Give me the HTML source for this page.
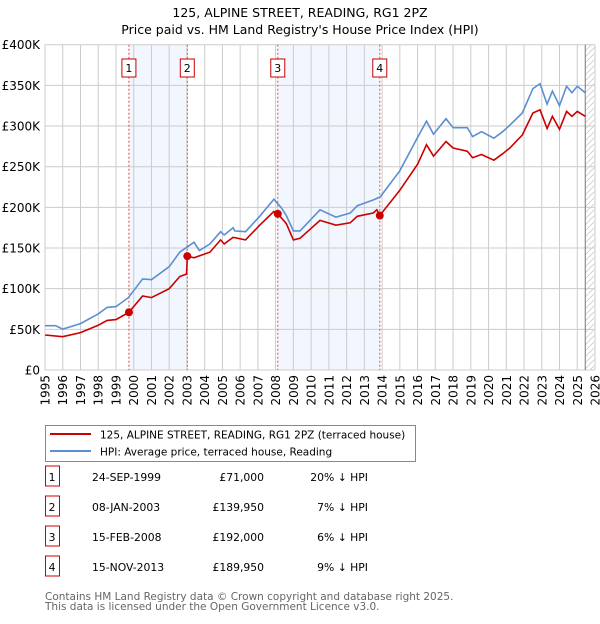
<!DOCTYPE html>
<html><head><meta charset="utf-8"><style>
body{margin:0;background:#fff;font-family:"DejaVu Sans","Liberation Sans",sans-serif;}
svg text{font-family:"DejaVu Sans","Liberation Sans",sans-serif;}
</style></head><body>
<svg id="c" width="600" height="620" viewBox="0 0 600 620" xmlns="http://www.w3.org/2000/svg">
<text x="300" y="17" text-anchor="middle" font-size="12.5">125, ALPINE STREET, READING, RG1 2PZ</text>
<text x="300" y="34" text-anchor="middle" font-size="12.5">Price paid vs. HM Land Registry's House Price Index (HPI)</text>
<g id="plot"></g>
<g>
<rect x="45.5" y="425.5" width="370" height="36" fill="#fff" stroke="#888"/>
<line x1="50" y1="434" x2="91" y2="434" stroke="#cc0000" stroke-width="2"/>
<text x="100" y="438.5" font-size="10.5">125, ALPINE STREET, READING, RG1 2PZ (terraced house)</text>
<line x1="50" y1="451" x2="91" y2="451" stroke="#5b8fd0" stroke-width="2"/>
<text x="100" y="455.5" font-size="10.5">HPI: Average price, terraced house, Reading</text>
</g>
<g id="table" font-size="10.8"></g>
<text x="45" y="600" font-size="10.5" fill="#666">Contains HM Land Registry data © Crown copyright and database right 2025.</text>
<text x="45" y="610" font-size="10.5" fill="#666">This data is licensed under the Open Government Licence v3.0.</text>
</svg>
<script>
const hpiYears=[1995,1995.6,1996,1997,1998,1998.5,1999,1999.7,2000.5,2001,2002,2002.6,2003.4,2003.7,2004.3,2004.9,2005.1,2005.6,2005.7,2006.3,2007.1,2007.9,2008.3,2008.6,2009,2009.37,2010.5,2011.4,2012.2,2012.6,2013.5,2013.9,2015,2016,2016.5,2016.9,2017.6,2018,2018.8,2019.1,2019.6,2020.3,2020.8,2021.2,2021.9,2022.5,2022.9,2023.3,2023.6,2024.0,2024.4,2024.7,2025.0,2025.45];
const hpiValues=[54.5,54.5,50.3,57,69,77,78,89,112,111,127,145,157,147,155,170,166,175,171,170,189,210,200,190,171,171,197,188,193,202,209,213,245,286,306,290,309,298,298,287,293,285,293,301,316,346,352,327,343,325,349,341,349,341];
const propYears=[1995,1996,1997,1998,1998.5,1999,1999.73,2000.5,2001,2002,2002.6,2002.98,2003.02,2003.4,2004.3,2004.9,2005.1,2005.6,2006.3,2007.1,2007.9,2008.12,2008.6,2009,2009.37,2010.5,2011.4,2012.2,2012.6,2013.5,2013.7,2013.87,2015,2016,2016.5,2016.9,2017.6,2018,2018.8,2019.1,2019.6,2020.3,2020.8,2021.2,2021.9,2022.5,2022.9,2023.3,2023.6,2024.0,2024.4,2024.7,2025.0,2025.45];
const propValues=[43,41,46,55,61,62,71,91,89,100,115,118,140,138,145,160,155,163,160,178,195,192,180,160,162,184,178,181,189,193,197,190,221,253,277,263,281,273,269,261,265,258,266,273,289,316,320,297,312,296,318,312,318,312];
const saleLabels=["1","2","3","4"];
const saleYears=[1999.73,2003.02,2008.12,2013.87];
const saleValues=[71,139.95,192,189.95];
const saleDates=["24-SEP-1999","08-JAN-2003","15-FEB-2008","15-NOV-2013"];
const salePrices=["£71,000","£139,950","£192,000","£189,950"];
const saleDiffs=["20% ↓ HPI","7% ↓ HPI","6% ↓ HPI","9% ↓ HPI"];
const yTicks=[0,50,100,150,200,250,300,350,400];
const yTickLabels=["£0","£50K","£100K","£150K","£200K","£250K","£300K","£350K","£400K"];
const xTicks=[1995,1996,1997,1998,1999,2000,2001,2002,2003,2004,2005,2006,2007,2008,2009,2010,2011,2012,2013,2014,2015,2016,2017,2018,2019,2020,2021,2022,2023,2024,2025,2026];
const shadePairs=[[0,1],[2,3]];
const dataEnd=2025.45;

const L=45,R=595,T=44.7,B=370;
const X=y=>L+(y-1995)/(2026-1995)*(R-L);
const Y=v=>B-v/400*(B-T);
const NS="http://www.w3.org/2000/svg";
const plot=document.getElementById('plot');
function mk(tag,at,parent){const e=document.createElementNS(NS,tag);for(const k in at)e.setAttribute(k,at[k]);(parent||plot).appendChild(e);return e;}

let bg=mk('rect',{x:L,y:T,width:R-L,height:B-T,fill:'#fff'});


shadePairs.forEach(p=>{
 let r=mk('rect',{x:X(saleYears[p[0]]),y:T,width:X(saleYears[p[1]])-X(saleYears[p[0]]),height:B-T,fill:'#f2f6fe'});
 
 
});
let defs=mk('defs',{});
let pat=mk('pattern',{id:'h',width:6,height:6,patternUnits:'userSpaceOnUse'},defs);
mk('line',{x1:0,y1:6,x2:6,y2:0,stroke:'#ccc','stroke-width':0.8},pat);
let hr=mk('rect',{x:X(dataEnd),y:T,width:R-X(dataEnd),height:B-T,fill:'url(#h)'});


xTicks.forEach(t=>{
 let l=mk('line',{x1:X(t),y1:T,x2:X(t),y2:B,stroke:'#ccc','stroke-width':1});
 
 
 let tx=mk('text',{x:0,y:0,transform:`translate(${X(t)+4.5},${B+5}) rotate(-90)`,'text-anchor':'end','font-size':12});
 tx.textContent=t;
 
 
});
yTicks.forEach((t,i)=>{
 let l=mk('line',{x1:L,y1:Y(t),x2:R,y2:Y(t),stroke:'#ccc','stroke-width':1});
 
 
 let tx=mk('text',{x:40,y:Y(t)+4.5,'text-anchor':'end','font-size':12});
 tx.textContent=yTickLabels[i];
 
 
});
let el=mk('line',{x1:X(dataEnd),y1:T,x2:X(dataEnd),y2:B,stroke:'#777','stroke-width':1});


saleYears.forEach((y,i)=>{
 let l=mk('line',{x1:X(y),y1:T,x2:X(y),y2:B,stroke:'#e05050','stroke-width':1,'stroke-dasharray':'2,2'});
 
 
 let b=mk('rect',{x:X(y)-7,y:59,width:14,height:18,fill:'#fff',stroke:'#cc0000','stroke-width':1});
 
 
 let t=mk('text',{x:X(y),y:72,'text-anchor':'middle','font-size':11});
 t.textContent=saleLabels[i];
 
 
});
const path=(xs,vs)=>xs.map((x,i)=>(i?'L':'M')+X(x).toFixed(1)+','+Y(vs[i]).toFixed(1)).join('');
let hp=mk('path',{d:path(hpiYears,hpiValues),fill:'none',stroke:'#5b8fd0','stroke-width':1.6});


let pp=mk('path',{d:path(propYears,propValues),fill:'none',stroke:'#cc0000','stroke-width':1.6});


saleYears.forEach((y,i)=>{
 let c=mk('circle',{cx:X(y),cy:Y(saleValues[i]),r:4,fill:'#cc0000'});
 
 
});
const tbl=document.getElementById('table');
saleLabels.forEach((s,i)=>{
 const yy=483+i*30;
 let b=mk('rect',{x:45.5,y:yy-17,width:14,height:20,fill:'#fff',stroke:'#cc0000'},tbl);
 
 
 const cells=[[52,'middle',s],[92,'start',saleDates[i]],[264,'end',salePrices[i]],[368,'end',saleDiffs[i]]];
 cells.forEach(c=>{
  let t=mk('text',{x:c[0],y:yy-2,'text-anchor':c[1]},tbl);
  t.textContent=c[2];
  
  
 });
});
</script>
</body></html>
